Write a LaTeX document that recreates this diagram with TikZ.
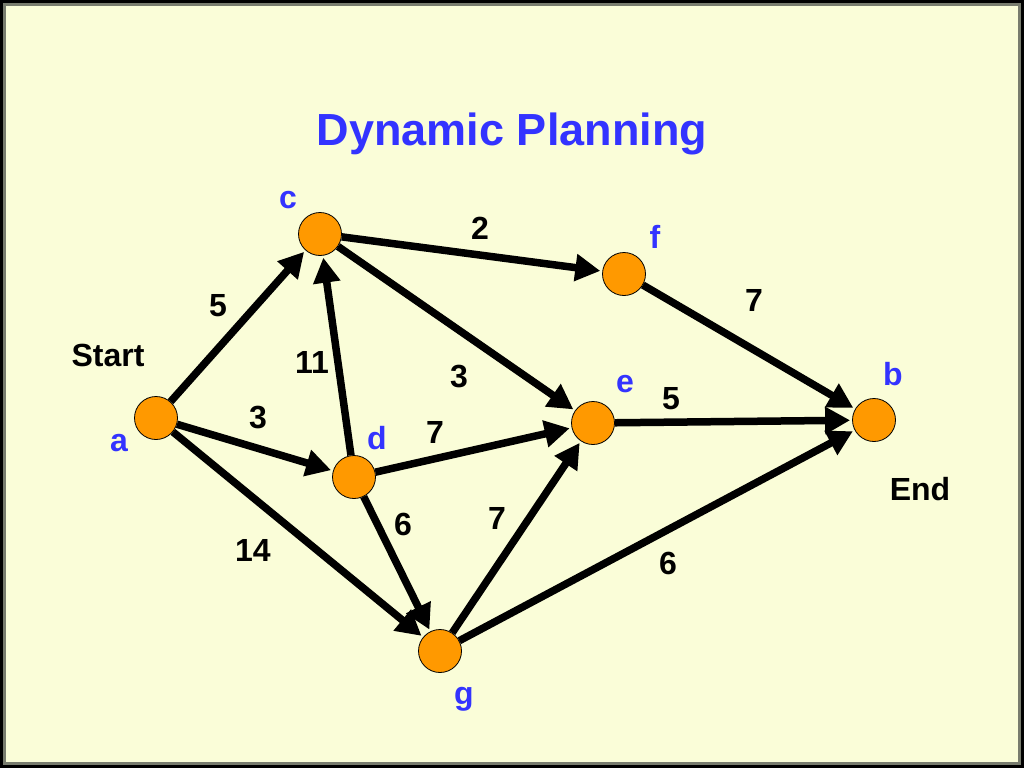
\documentclass[tikz,border=0pt]{standalone}
\usepackage{fontspec}
\setmainfont{Liberation Sans}
\usetikzlibrary{arrows.meta}
\definecolor{cream}{RGB}{250,253,216}
\definecolor{framegray}{RGB}{120,124,110}
\definecolor{ttlblue}{RGB}{51,51,255}
\definecolor{nodeor}{RGB}{255,153,0}
\begin{document}
\begin{tikzpicture}[x=1pt,y=-1pt,
  vtx/.style={circle,draw=black,line width=0.8pt,fill=nodeor,minimum size=43pt,inner sep=0pt},
  arr/.style={line width=7.5pt,-{Triangle[length=25pt,width=26pt]},shorten >=2pt},
  wlab/.style={font=\bfseries\fontsize{32}{32}\selectfont,text=black,inner sep=0pt},
  nlab/.style={font=\bfseries\fontsize{32}{32}\selectfont,text=ttlblue,inner sep=0pt}]
\fill[black] (0,0) rectangle (1024,768);
\fill[framegray] (3,3) rectangle (1021,765);
\fill[cream] (6,6) rectangle (1018,762);
\useasboundingbox (0,0) rectangle (1024,768);
\node[font=\bfseries\fontsize{45}{45}\selectfont,text=ttlblue] (title) at (512,134) {Dynamic Planning};
\node[vtx] (a) at (156,418) {};
\node[vtx] (c) at (320,234) {};
\node[vtx] (d) at (354,477) {};
\node[vtx] (f) at (624,274) {};
\node[vtx] (e) at (593,423) {};
\node[vtx] (g) at (440,651) {};
\node[vtx] (b) at (874,420) {};
\draw[arr] (a) -- (c);
\draw[arr] (a) -- (d);
\draw[arr] (a) -- (g);
\draw[arr] (d) -- (c);
\draw[arr] (c) -- (f);
\draw[arr] (c) -- (e);
\draw[arr] (d) -- (e);
\draw[arr] (d) -- (g);
\draw[arr] (g) -- (e);
\draw[arr] (f) -- (b);
\draw[arr] (e) -- (b);
\draw[arr] (g) -- (b);
\node[nlab] (lc) at (288,200) {c};
\node[nlab] (lf) at (655,237) {f};
\node[nlab] (la) at (119,443) {a};
\node[nlab] (ld) at (377,438) {d};
\node[nlab] (le) at (625,384) {e};
\node[nlab] (lb) at (893,374) {b};
\node[nlab] (lg) at (464,699) {g};
\node[wlab] (start) at (108,355) {Start};
\node[wlab] (end) at (920,489) {End};
\node[wlab] (w1) at (480,228) {2};
\node[wlab] (w2) at (754,300) {7};
\node[wlab] (w3) at (218,306) {5};
\node[wlab] (w4) at (312,362) {11};
\node[wlab] (w5) at (459,377) {3};
\node[wlab] (w6) at (671,399) {5};
\node[wlab] (w7) at (258,418) {3};
\node[wlab] (w8) at (435,432) {7};
\node[wlab] (w9) at (403,524) {6};
\node[wlab] (w10) at (497,518) {7};
\node[wlab] (w11) at (253,550) {14};
\node[wlab] (w12) at (668,563) {6};
\end{tikzpicture}
\end{document}
